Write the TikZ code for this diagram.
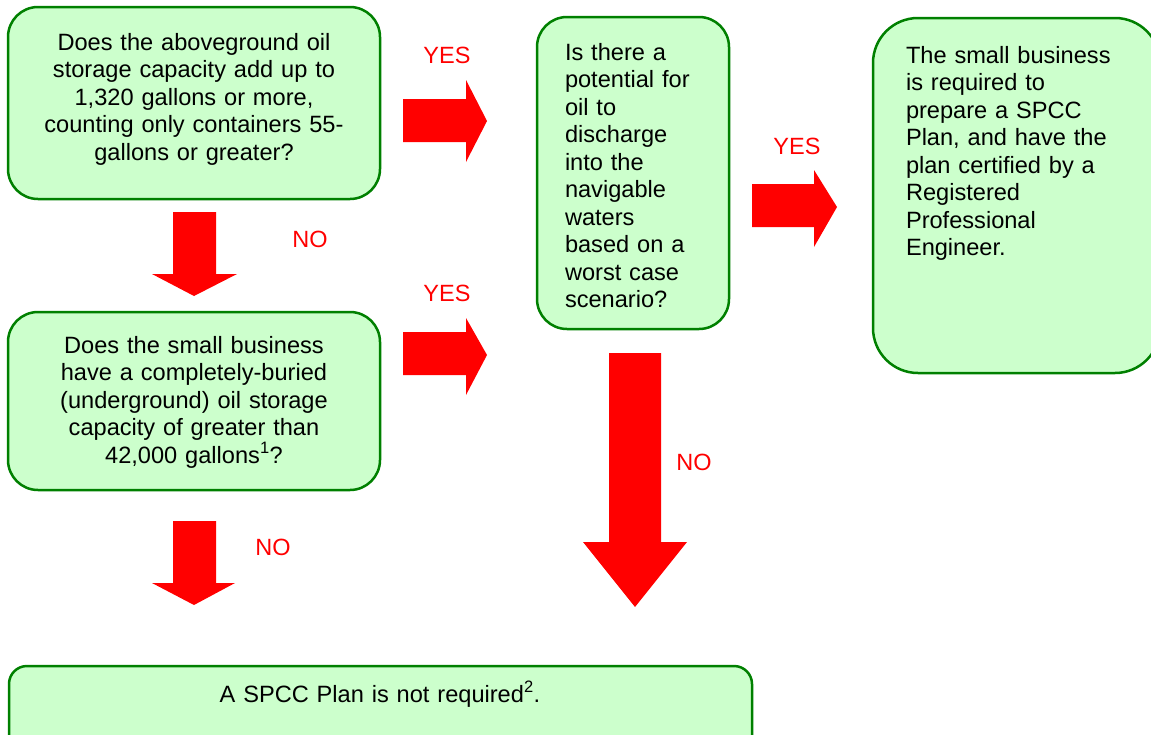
\documentclass[tikz,border=0pt]{standalone}
\usepackage{fontspec}
\setmainfont{Liberation Sans}
\definecolor{boxfill}{HTML}{CCFFCC}
\definecolor{boxgreen}{HTML}{008000}
\begin{document}
\begin{tikzpicture}[x=1pt,y=-1pt,
  box/.style={draw=boxgreen, fill=boxfill, line width=2.5pt},
  arr/.style={fill=red, draw=none},
  lab/.style={text=red, font=\fontsize{23.5}{27}\selectfont, inner sep=0pt},
  txt/.style={font=\fontsize{23.6}{27.5}\selectfont, inner sep=0pt, anchor=base}]
\useasboundingbox (0,0) rectangle (1151,734);
\clip (0,0) rectangle (1151,734);

% boxes
\draw[box, rounded corners=30pt] (8,7) rectangle (380,199);
\draw[box, rounded corners=30pt] (8,312) rectangle (380,490);
\draw[box, rounded corners=30pt] (537,17) rectangle (729,329);
\draw[box, rounded corners=45pt] (873,18) rectangle (1160,373);
\draw[box, rounded corners=18pt] (9,666) rectangle (752,760);

% texts
\node[txt, align=center, text width=370pt] (t1) at (194,50)
  {Does the aboveground oil\\storage capacity add up to\\1,320 gallons or more,\\counting only containers 55-\\gallons or greater?};
\node[txt, align=center, text width=370pt] (t2) at (194,353)
  {Does the small business\\have a completely-buried\\(underground) oil storage\\capacity of greater than\\42,000 gallons\textsuperscript{1}?};
\node[txt, align=left, text width=170pt] (t3) at (650,60)
  {Is there a\\potential for\\oil to\\discharge\\into the\\navigable\\waters\\based on a\\worst case\\scenario?};
\node[txt, align=left, text width=240pt] (t4) at (1026,63)
  {The small business\\is required to\\prepare a SPCC\\Plan, and have the\\plan certified by a\\Registered\\Professional\\Engineer.};
\node[txt, align=center, text width=700pt] (t5) at (380,702)
  {A SPCC Plan is not required\textsuperscript{2}.};

% arrows
\fill[arr] (403,99) -- (466,99) -- (466,80) -- (487,121) -- (466,162) -- (466,142) -- (403,142) -- cycle;
\fill[arr] (403,332) -- (466,332) -- (466,318) -- (487,355) -- (466,395) -- (466,375) -- (403,375) -- cycle;
\fill[arr] (752,184) -- (814,184) -- (814,170) -- (837,207) -- (814,247) -- (814,227) -- (752,227) -- cycle;
\fill[arr] (173,212) -- (216,212) -- (216,274) -- (237,274) -- (194,296) -- (152,274) -- (173,274) -- cycle;
\fill[arr] (173,521) -- (216,521) -- (216,583) -- (235,583) -- (194,605) -- (152,583) -- (173,583) -- cycle;
\fill[arr] (609,353) -- (661,353) -- (661,542) -- (687,542) -- (635,607) -- (583,542) -- (609,542) -- cycle;

% labels
\node[lab] (y1) at (447,55) {YES};
\node[lab] (n1) at (310,239) {NO};
\node[lab] (y2) at (447,293) {YES};
\node[lab] (y3) at (797,146) {YES};
\node[lab] (n2) at (694,462) {NO};
\node[lab] (n3) at (273,547) {NO};
\end{tikzpicture}
\end{document}
